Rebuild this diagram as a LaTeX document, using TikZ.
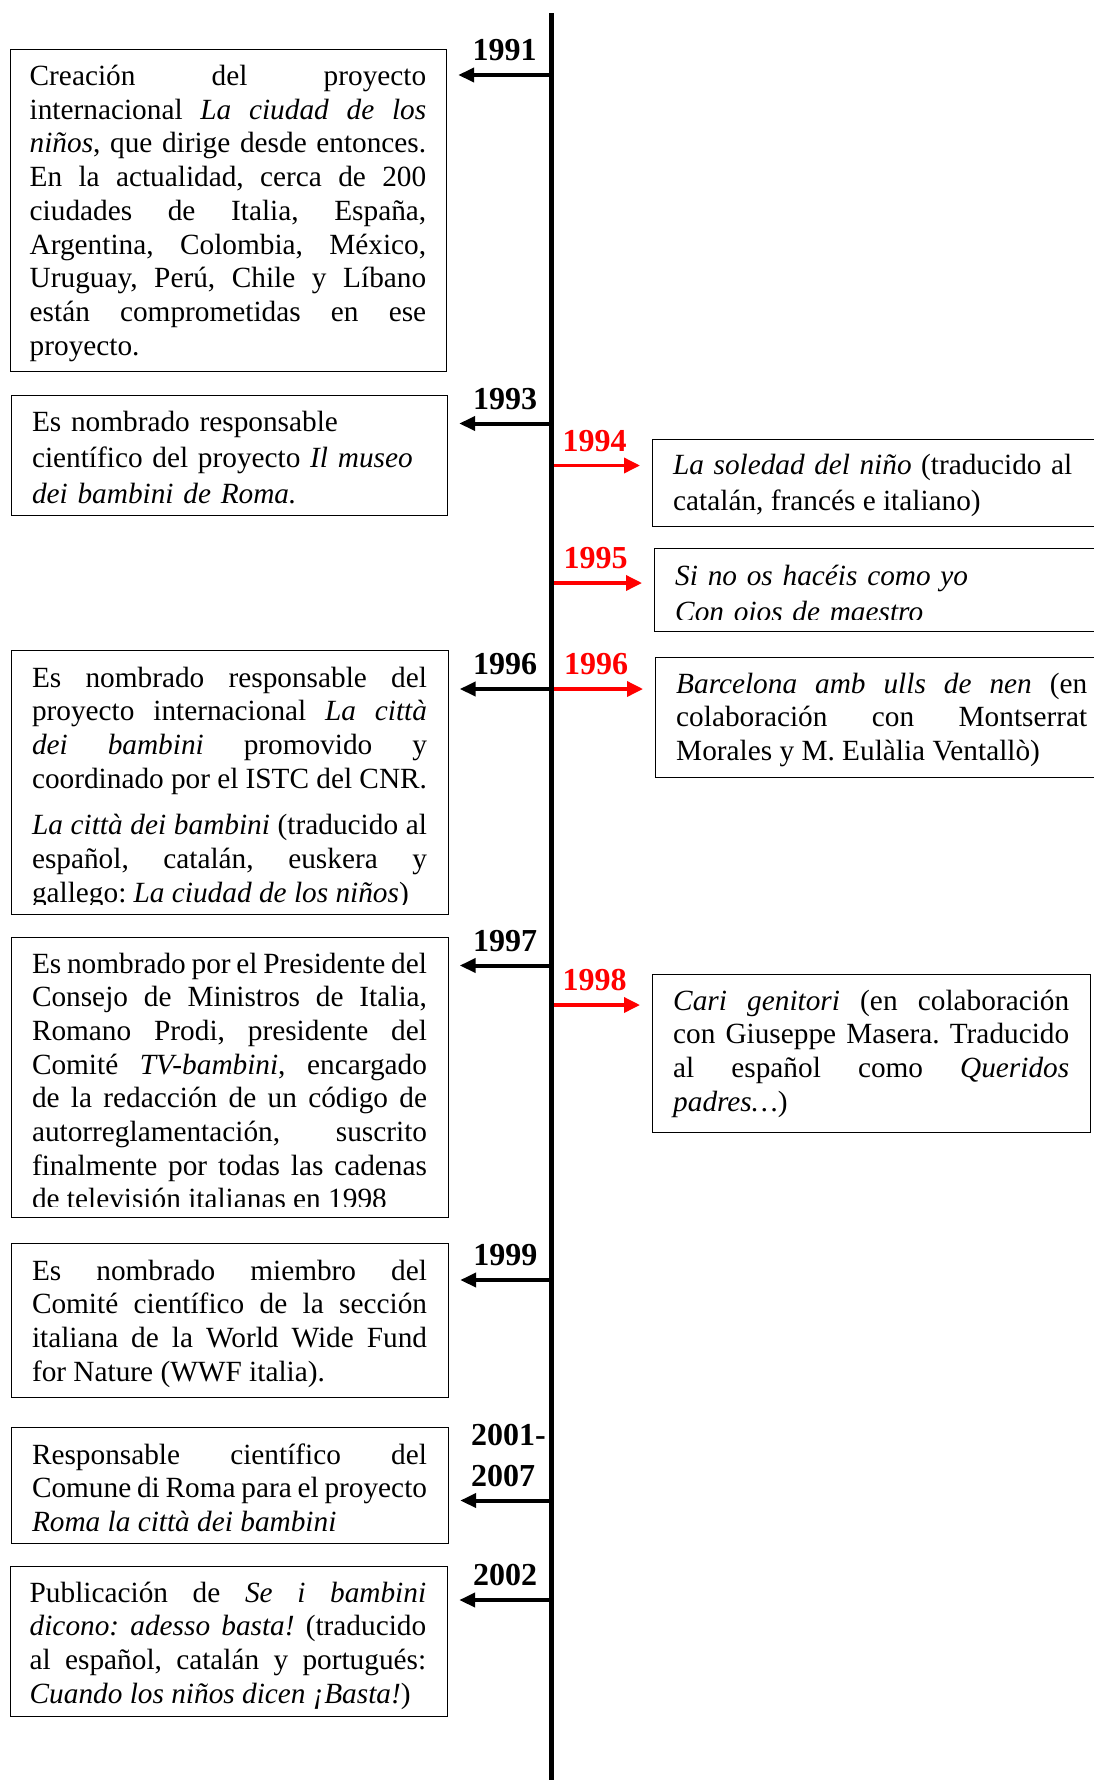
\documentclass[tikz,border=0pt]{standalone}
\usepackage{fontspec}
\setmainfont{Liberation Serif}
\usetikzlibrary{arrows.meta}

\tikzset{
  itembox/.style = {draw, line width=1.2pt, anchor=north west, inner sep=0pt},
  itemtext/.style = {inner sep=0pt, anchor=base west, align=justify, text width=#1,
    font=\fontsize{29.3}{33.7}\selectfont},
  itemloose/.style = {itemtext=#1, font=\fontsize{29.3}{36.3}\selectfont},
  year/.style = {inner sep=0pt, above=12pt, font=\fontsize{32}{41}\selectfont\bfseries},
  back/.style = {line width=4pt, -{Triangle[length=16pt,width=14pt]}, shorten >=11pt},
  fwd/.style = {red, line width=3.5pt, -{Triangle[length=16pt,width=15pt]}, shorten >=12pt}
}

\begin{document}
\tolerance=10000
\hyphenpenalty=10000
\exhyphenpenalty=10000
\frenchspacing
\begin{tikzpicture}[x=1pt, y=-1pt]
    \useasboundingbox (0,0) rectangle (1094,1780);

    % left column
    \node[itembox, minimum width=436pt, minimum height=322pt] (b91) at (10,49) {};
    \node[itemtext=396.5pt] (t91) at (29.5,85.5) {Creación del proyecto\linebreak
      internacional \textit{La ciudad de los\linebreak
      niños}, que dirige desde entonces.\linebreak
      En la actualidad, cerca de 200\linebreak
      ciudades de Italia, España,\linebreak
      Argentina, Colombia, México,\linebreak
      Uruguay, Perú, Chile y Líbano\linebreak
      están comprometidas en ese\linebreak
      proyecto.};

    \node[itembox, minimum width=436pt, minimum height=120pt] (b93) at (11,395) {};
    \node[itemloose=396pt, align=left] (t93) at (31.8,431) {Es nombrado responsable\\
      científico del proyecto \textit{Il museo}\\
      \textit{dei bambini de Roma.}};

    \node[itembox, minimum width=436.5pt, minimum height=264pt] (b96l) at (11,650) {};
    \begin{scope}
      \clip (b96l.north west) rectangle (447,904);
      \node[itemtext=395pt] (t96l) at (31.8,687) {Es nombrado responsable del\linebreak
        proyecto internacional \textit{La città\linebreak
        dei bambini} promovido y\linebreak
        coordinado por el ISTC del CNR.\par\vspace{12.8pt}
        \textit{La città dei bambini} (traducido al\linebreak
        español, catalán, euskera y\linebreak
        gallego: \textit{La ciudad de los niños})};
    \end{scope}

    \node[itembox, minimum width=436.5pt, minimum height=280pt] (b97) at (11,937) {};
    \begin{scope}
      \clip (b97.north west) rectangle (447,1206);
      \node[itemtext=395pt] (t97) at (31.8,973) {Es nombrado por el Presidente del\linebreak
        Consejo de Ministros de Italia,\linebreak
        Romano Prodi, presidente del\linebreak
        Comité \textit{TV-bambini}, encargado\linebreak
        de la redacción de un código de\linebreak
        autorreglamentación, suscrito\linebreak
        finalmente por todas las cadenas\linebreak
        de televisión italianas en 1998};
    \end{scope}

    \node[itembox, minimum width=437pt, minimum height=154pt] (b99) at (11,1243) {};
    \node[itemtext=395pt] (t99) at (31.8,1280) {Es nombrado miembro del\linebreak
      Comité científico de la sección\linebreak
      italiana de la World Wide Fund\linebreak
      for Nature (WWF italia).};

    \node[itembox, minimum width=437pt, minimum height=116pt] (b01) at (11,1427) {};
    \node[itemtext=395pt] (t01) at (31.8,1464) {Responsable científico del\linebreak
      Comune di Roma para el proyecto\linebreak
      \textit{Roma la città dei bambini}};

    \node[itembox, minimum width=437pt, minimum height=150pt] (b02) at (10,1566) {};
    \node[itemtext=396.5pt] (t02) at (29.5,1602) {Publicación de \textit{Se i bambini\linebreak
      dicono: adesso basta!} (traducido\linebreak
      al español, catalán y portugués:\linebreak
      \textit{Cuando los niños dicen ¡Basta!})};

    % right column
    \node[itembox, minimum width=453pt, minimum height=87pt] (b94) at (652,439) {};
    \node[itemloose=399pt] (t94) at (673,474.5) {\textit{La soledad del niño} (traducido al\linebreak
      catalán, francés e italiano)};

    \node[itembox, minimum width=451pt, minimum height=83pt] (b95) at (654,548) {};
    \begin{scope}
      \clip (b95.north west) rectangle (1100,619);
      \node[itemloose=400pt, align=left] (t95) at (675,585) {\textit{Si no os hacéis como yo}\\
        \textit{Con ojos de maestro}};
    \end{scope}

    \node[itembox, minimum width=450pt, minimum height=120pt] (b96r) at (655,657) {};
    \node[itemtext=411pt] (t96r) at (676,693) {\textit{Barcelona amb ulls de nen} (en\linebreak
      colaboración con Montserrat\linebreak
      Morales y M. Eulàlia Ventallò)};

    \node[itembox, minimum width=438pt, minimum height=157.5pt] (b98) at (652,974) {};
    \node[itemtext=396pt] (t98) at (673,1010) {\textit{Cari genitori} (en colaboración\linebreak
      con Giuseppe Masera. Traducido\linebreak
      al español como \textit{Queridos\linebreak
      padres…})};

    % points on the time line
    \coordinate (top) at (551.5,13);
    \coordinate (bottom) at (551.5,1790);
    \coordinate (y91) at (551.5,75);
    \coordinate (y93) at (551.5,423.5);
    \coordinate (y94) at (551.5,465.5);
    \coordinate (y95) at (551.5,583);
    \coordinate (y96) at (551.5,689);
    \coordinate (y97) at (551.5,965.5);
    \coordinate (y98) at (551.5,1005);
    \coordinate (y99) at (551.5,1280);
    \coordinate (y01) at (551.5,1500.5);
    \coordinate (y02) at (551.5,1600);

    \draw[back] (y91) -- node[year, pos=0.45] (l91) {1991} (y91 -| b91.east);
    \draw[back] (y93) -- node[year, pos=0.45] (l93) {1993} (y93 -| b93.east);
    \draw[back] (y96) -- node[year, pos=0.45] (l96l) {1996} (y96 -| b96l.east);
    \draw[back] (y97) -- node[year, pos=0.45] (l97) {1997} (y97 -| b97.east);
    \draw[back] (y99) -- node[year, pos=0.45] (l99) {1999} (y99 -| b99.east);
    \draw[back] (y01) -- node[year, pos=0.42, above=-0.5pt, align=left] (l01) {2001-\\2007} (y01 -| b01.east);
    \draw[back] (y02) -- node[year, pos=0.45] (l02) {2002} (y02 -| b02.east);

    \draw[fwd] (y94) -- node[year, red, pos=0.43] (l94) {1994} (y94 -| b94.west);
    \draw[fwd] (y95) -- node[year, red, pos=0.43] (l95) {1995} (y95 -| b95.west);
    \draw[fwd] (y96) -- node[year, red, pos=0.43] (l96r) {1996} (y96 -| b96r.west);
    \draw[fwd] (y98) -- node[year, red, pos=0.43] (l98) {1998} (y98 -| b98.west);

    \draw[line width=4.3pt] (top) -- (bottom);
\end{tikzpicture}
\end{document}
